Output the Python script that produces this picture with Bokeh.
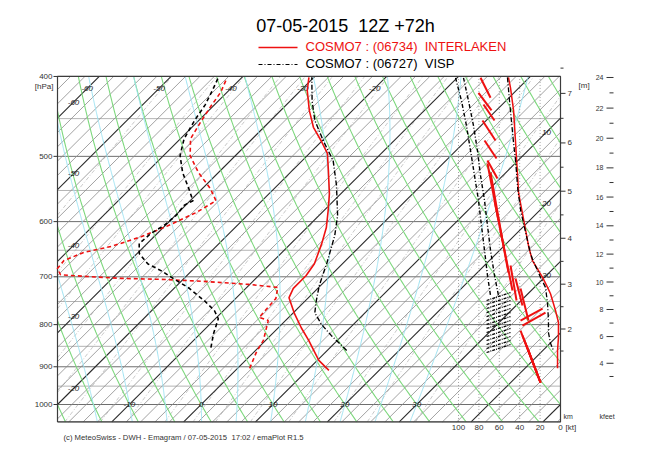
import numpy as np
from bokeh.plotting import figure
from bokeh.models import Range1d
from bokeh.core.properties import value
from bokeh.embed import file_html
from bokeh.resources import INLINE

# ---------------- texts ----------------
TITLE = "07-05-2015\u00a0\u00a012Z +72h"
LEG1 = "COSMO7 : (06734)\u00a0\u00a0INTERLAKEN"
LEG2 = "COSMO7 : (06727)\u00a0\u00a0VISP"
FOOTER = "(c) MeteoSwiss - DWH - Emagram / 07-05-2015\u00a0\u00a017:02 / emaPlot R1.5"

# ---------------- axis / grid values ----------------
p_ticks = [400, 500, 600, 700, 800, 900, 1000]
p_minor = [450, 550, 650, 750, 850, 950, 1050]
iso_top_labels = [-60, -50, -40, -30, -20]
iso_left_labels = [-60, -50, -40, -30, -20]
iso_bottom_labels = [-10, 0, 10, 20, 30]
iso_right_labels = [10, 20, 30]
theta_list = [-25, -20, -15, -10, -5, 0, 5, 10, 15, 20, 25, 30, 35, 40, 45, 50, 55, 60, 65, 70, 75, 80, 85, 90]
thetaw_list = [-15, -10, -5, 0, 5, 10, 15, 20, 25, 30]
mixr_list = [0.1, 0.2, 0.3, 0.5, 0.7, 1, 1.5, 2, 3, 4, 5, 7, 10, 15, 20, 30]
km_labels = [2, 3, 4, 5, 6, 7]
km_minor = [1.5, 2.5, 3.5, 4.5, 5.5, 6.5, 7.5]
kft_labels = [4, 6, 8, 10, 12, 14, 16, 18, 20, 22, 24]
kft_minor = [3, 5, 7, 9, 11, 13, 15, 17, 19, 21, 23]
kt_ticks = [100, 80, 60, 40, 20, 0]

# ---------------- profiles ----------------
# Interlaken (red) temperature
itl_t_p = [909, 884, 836, 807, 776, 742, 723, 698, 675, 638, 610, 582, 555, 520, 496, 479, 461, 440, 416, 401]
itl_t = [13.0, 10.2, 6.0, 3.2, 0.3, -2.7, -3.4, -3.4, -3.9, -5.7, -7.3, -9.4, -11.6, -15.0, -17.5, -20.1, -23.1, -26.0, -29.1, -30.7]
# Interlaken dewpoint
itl_d_p = [904, 865, 836, 791, 784, 744, 721, 715, 709, 705, 703, 699, 696, 684, 669, 654, 643, 626, 608, 585, 566,
           547, 523, 499, 476, 455, 435, 418, 402]
itl_d = [1.7, 0.4, -0.3, -2.4, -4.1, -4.4, -5.7, -10.2, -16.8, -23.0, -28.8, -34.2, -37.7, -39.0, -39.2, -37.6, -34.6,
         -31.8, -29.7, -27.5, -26.4, -28.9, -32.8, -36.3, -38.6, -39.5, -40.3, -40.9, -42.0]
# Visp (black) temperature
vsp_t_p = [860, 848, 825, 800, 774, 748, 717, 673, 624, 590, 542, 506, 479, 452, 428, 401]
vsp_t = [12.7, 11.3, 8.5, 5.6, 3.0, 1.5, -0.2, -2.3, -5.0, -7.4, -11.8, -15.7, -19.8, -23.9, -27.0, -30.3]
# Visp dewpoint
vsp_d_p = [853, 820, 787, 769, 748, 721, 707, 688, 675, 656, 638, 620, 607, 590, 573, 566,
           547, 523, 499, 476, 452, 433, 416, 401]
vsp_d = [-6.6, -8.2, -9.6, -11.3, -14.1, -18.2, -20.8, -24.3, -27.1, -29.7, -31.1, -30.9, -30.2, -29.9, -30.2, -29.6,
         -31.9, -35.0, -37.7, -39.5, -40.6, -41.3, -42.3, -43.3]

# wind speed profiles [kt]
itl_ff_p = [401, 413, 440, 482, 506, 555, 598, 645, 669, 701, 721, 734, 769, 795, 829, 860, 904]
itl_ff = [51, 49, 46, 44, 43, 41, 36, 31, 27.5, 17.6, 12.7, 9.8, 4.9, 2.0, 2.0, 2.9, 2.9]
vsp_ff_p = [401, 428, 482, 506, 546, 582, 620, 656, 666, 701, 721, 754, 791, 818, 843, 860]
vsp_ff = [52, 50, 46, 44, 42, 39, 34, 29.4, 27.5, 19.6, 14.7, 12.7, 11.8, 11.8, 9.8, 6.9]

# wind sticks Interlaken (start / end in kt-position and pressure)
itl_stk_kt0 = [78.4, 80.4, 75.5, 76.5, 74.5, 71.6, 71.6, 68.6, 64.7, 58.8, 53.9, 49.0, 44.1, 39.2, 39.2, 37.3,
               39.2, 37.3, 35.3, 33.3, 31.4]
itl_stk_p0 = [401.5, 418.7, 432.6, 452.3, 478.3, 505.8, 510.1, 523.1, 565.6, 615.1, 659.5, 678.2, 703.3, 723.3, 790.9,
              802.0, 813.3, 824.7, 836.3, 848.1, 860.0]
itl_stk_kt1 = [68.6, 67.6, 64.7, 63.7, 62.7, 61.8, 60.8, 56.9, 53.9, 51.0, 47.1, 43.1, 37.3, 31.4, 17.6, 14.7,
               19.6, 19.6, 19.6, 19.6, 19.6]
itl_stk_p1 = [424.5, 439.8, 452.3, 478.3, 503.0, 531.9, 598.1, 632.5, 659.5, 691.6, 727.3, 747.9, 758.4, 790.9, 764.8,
              773.4, 940.4, 940.4, 940.4, 940.4, 940.4]
# wind sticks Visp: two chains in the upper part, comb in the lower part
vsp_chainA_kt = [102.9, 97.1, 92.2, 88.2, 84.3, 80.4, 77.5, 74.5, 71.6, 68.6]
vsp_chainB_kt = [95.1, 90.2, 85.3, 81.4, 78.4, 74.5, 71.6, 68.6, 64.7, 60.8]
vsp_chain_p = [401.5, 428.0, 458.9, 492.1, 527.6, 565.6, 606.4, 650.2, 697.2, 737.7]
vsp_comb_p0 = [747.9, 756.3, 764.8, 773.4, 782.1, 790.9, 799.7, 808.7, 817.8, 827.0, 836.3, 845.7, 855.2, 864.8]
vsp_comb_p1 = [731.4, 739.6, 747.9, 756.3, 764.8, 773.4, 782.1, 790.9, 799.7, 808.7, 817.8, 827.0, 836.3, 845.7]
vsp_comb_kt0 = [72.5] * 14
vsp_comb_kt1 = [49.0] * 14

# ---------------- geometry helpers ----------------
SKEW = 50.0
KX = 503 / 70.0
X0 = 57 + 20 * KX
X_LO, X_HI = -20.0, 50.0
P_TOP, P_BOT = 400.0, 1050.0
W, H = 640, 448


def xpix(px):
    return (px - X0) / KX


def ppix(py):
    return 1000.0 * np.exp((py - 404.0) / 358.0)


def ktpix(px):
    return (560.0 - px) / 1.02


def skx(t, pr):
    return np.asarray(t, float) + SKEW * np.log(1000.0 / np.asarray(pr, float))


def clip(xs, ps, lo=X_LO, hi=X_HI):
    xs = np.asarray(xs, float)
    ls = np.log(np.asarray(ps, float))
    segs_x, segs_p = [], []
    cx, cp = [], []
    for i in range(len(xs)):
        ins = lo <= xs[i] <= hi
        if i > 0:
            x0, x1, l0, l1 = xs[i - 1], xs[i], ls[i - 1], ls[i]
            in0 = lo <= x0 <= hi
            if in0 != ins:
                if in0:
                    b = lo if x1 < lo else hi
                else:
                    b = lo if x0 < lo else hi
                t = (b - x0) / (x1 - x0)
                bl = l0 + t * (l1 - l0)
                if in0:
                    cx.append(b); cp.append(np.exp(bl))
                    if len(cx) > 1:
                        segs_x.append(cx); segs_p.append(cp)
                    cx, cp = [], []
                else:
                    cx, cp = [b], [np.exp(bl)]
        if ins:
            cx.append(xs[i]); cp.append(np.exp(ls[i]))
    if len(cx) > 1:
        segs_x.append(cx); segs_p.append(cp)
    return segs_x, segs_p


# ---------------- figure ----------------
p = figure(width=W, height=H,
           x_range=Range1d(xpix(0), xpix(W)),
           y_range=Range1d(ppix(H), ppix(0)),
           y_axis_type="log", x_axis_location=None, y_axis_location=None,
           output_backend="svg", toolbar_location=None, min_border=0,
           outline_line_color=None, background_fill_color="white", border_fill_color="white")
p.grid.visible = False
p.extra_x_ranges = {"kt": Range1d(ktpix(0), ktpix(W))}

FONT = value("Liberation Sans")

# isobars
p.multi_line(xs=[[X_LO, X_HI]] * len(p_minor), ys=[[v, v] for v in p_minor], line_color="#b4b4b4", line_width=1)
p.multi_line(xs=[[X_LO, X_HI]] * len(p_ticks), ys=[[v, v] for v in p_ticks], line_color="#6e6e6e", line_width=1)

# mixing ratio lines
pp = np.exp(np.linspace(np.log(P_BOT), np.log(P_TOP), 80))
mx, mp = [], []
for w in mixr_list:
    e = w * pp / (622.0 + w)
    a = np.log(e / 6.112)
    td = 243.5 * a / (17.67 - a)
    sx, sp = clip(skx(td, pp), pp)
    mx += sx; mp += sp
p.multi_line(xs=mx, ys=mp, line_color="#b0b0b0", line_width=0.7, line_dash="4 2 1 2")

# isotherms
gx, gp, dx, dp = [], [], [], []
for t in range(-66, 54, 2):
    sx, sp = clip(skx([t, t], [P_BOT, P_TOP]), [P_BOT, P_TOP])
    if t % 10 == 0:
        dx += sx; dp += sp
    else:
        gx += sx; gp += sp
p.multi_line(xs=gx, ys=gp, line_color="#8a8a8a", line_width=0.8)
p.multi_line(xs=dx, ys=dp, line_color="#2a2a2a", line_width=1.1)

# dry adiabats
pp = np.exp(np.linspace(np.log(P_BOT), np.log(P_TOP), 120))
ax, ap = [], []
for th in theta_list:
    t = (th + 273.15) * (pp / 1000.0) ** 0.2857 - 273.15
    sx, sp = clip(skx(t, pp), pp)
    ax += sx; ap += sp
p.multi_line(xs=ax, ys=ap, line_color="#7ed87e", line_width=1.1)


# saturated adiabats
def dtdlnp(T, pr):
    Rd, cp, Lv, eps = 287.04, 1005.7, 2.501e6, 0.622
    tc = T - 273.15
    es = 6.112 * np.exp(17.67 * tc / (tc + 243.5))
    rs = eps * es / (pr - es)
    return (Rd * T + Lv * rs) / (cp + Lv * Lv * rs * eps / (Rd * T * T))


def moist(tw):
    out_l, out_t = [], []
    for lend, n in ((np.log(P_TOP), 300), (np.log(P_BOT), 20)):
        l = np.log(1000.0)
        T = tw + 273.15
        h = (lend - l) / n
        ls, ts = [l], [T]
        for _ in range(n):
            k1 = dtdlnp(T, np.exp(l))
            k2 = dtdlnp(T + 0.5 * h * k1, np.exp(l + 0.5 * h))
            k3 = dtdlnp(T + 0.5 * h * k2, np.exp(l + 0.5 * h))
            k4 = dtdlnp(T + h * k3, np.exp(l + h))
            T = T + h * (k1 + 2 * k2 + 2 * k3 + k4) / 6.0
            l = l + h
            ls.append(l); ts.append(T)
        out_l.append(ls); out_t.append(ts)
    ls = out_l[1][::-1] + out_l[0][1:]
    ts = out_t[1][::-1] + out_t[0][1:]
    prs = np.exp(np.array(ls))
    return skx(np.array(ts) - 273.15, prs), prs


sx_all, sp_all = [], []
for tw in thetaw_list:
    xx, pr = moist(tw)
    sx, sp = clip(xx, pr)
    sx_all += sx; sp_all += sp
p.multi_line(xs=sx_all, ys=sp_all, line_color="#9fe3f2", line_width=1.0)

# wind speed grid (dotted)
for k in kt_ticks[:-1]:
    p.line(x=[k, k], y=[P_BOT, P_TOP], x_range_name="kt", line_color="#8c8c8c", line_width=0.8, line_dash="1 2")

# frame
p.line(x=[X_LO, X_HI, X_HI, X_LO, X_LO], y=[P_BOT, P_BOT, P_TOP, P_TOP, P_BOT], line_color="#3c3c3c", line_width=1.2)

# isotherm labels
lab_kw = dict(text_font=FONT, text_font_size="8px", text_font_style="italic", text_color="#222222",
              text_align="center", text_baseline="middle")
pl = ppix(88)
p.text(x=[skx(t, pl) for t in iso_top_labels], y=[pl] * len(iso_top_labels),
       text=[str(t) for t in iso_top_labels], **lab_kw)
xl = xpix(73)
p.text(x=[xl] * len(iso_left_labels), y=[1000 * np.exp(-(xl - t) / SKEW) for t in iso_left_labels],
       text=[str(t) for t in iso_left_labels], **lab_kw)
p.text(x=[float(t) for t in iso_bottom_labels], y=[1000] * len(iso_bottom_labels),
       text=[str(t) for t in iso_bottom_labels], **lab_kw)
xr = xpix(546)
p.text(x=[xr] * len(iso_right_labels), y=[1000 * np.exp(-(xr - t) / SKEW) for t in iso_right_labels],
       text=[str(t) for t in iso_right_labels], **lab_kw)

# pressure axis
p.segment(x0=[xpix(53)] * len(p_ticks), x1=[X_LO] * len(p_ticks), y0=p_ticks, y1=p_ticks, line_color="#333333")
p.text(x=[xpix(52)] * len(p_ticks), y=p_ticks, text=[str(v) for v in p_ticks], text_font=FONT,
       text_font_size="8px", text_align="right", text_baseline="middle", text_color="#333333")
p.text(x=[xpix(53)], y=[ppix(86)], text=["[hPa]"], text_font=FONT, text_font_size="8px",
       text_align="right", text_baseline="middle", text_color="#333333")

# height axes (standard atmosphere)
HOFF = 0.15


def p_of_km(h):
    return 1013.25 * (1 - 2.25577e-5 * (np.asarray(h, float) - HOFF) * 1000.0) ** 5.25588


kmp = p_of_km(km_labels)
kmm = p_of_km(km_minor)
p.segment(x0=[X_HI] * len(kmp), x1=[xpix(565)] * len(kmp), y0=kmp, y1=kmp, line_color="#333333")
p.segment(x0=[X_HI] * len(kmm), x1=[xpix(563)] * len(kmm), y0=kmm, y1=kmm, line_color="#333333")
p.text(x=[xpix(567)] * len(kmp), y=kmp, text=[str(v) for v in km_labels], text_font=FONT, text_font_size="8px",
       text_align="left", text_baseline="middle", text_color="#333333")
p.text(x=[xpix(578)], y=[ppix(85)], text=["[m]"], text_font=FONT, text_font_size="8px",
       text_align="left", text_baseline="middle", text_color="#333333")
kfp = p_of_km(np.array(kft_labels) * 0.3048)
kfm = p_of_km(np.array(kft_minor) * 0.3048)
p.segment(x0=[xpix(606)] * len(kfp), x1=[xpix(613)] * len(kfp), y0=kfp, y1=kfp, line_color="#333333")
p.segment(x0=[xpix(609)] * len(kfm), x1=[xpix(613)] * len(kfm), y0=kfm, y1=kfm, line_color="#333333")
p.text(x=[xpix(603)] * len(kfp), y=kfp, text=[str(v) for v in kft_labels], text_font=FONT, text_font_size="7px",
       text_align="right", text_baseline="middle", text_color="#333333")
p.text(x=[xpix(563), xpix(599)], y=[ppix(416)] * 2, text=["km", "kfeet"], text_font=FONT, text_font_size="7px",
       text_align="left", text_baseline="middle", text_color="#333333")

# wind speed axis labels
p.text(x=kt_ticks, y=[ppix(427)] * len(kt_ticks), x_range_name="kt", text=[str(v) for v in kt_ticks],
       text_font=FONT, text_font_size="8px", text_align="center", text_baseline="middle", text_color="#333333")
p.text(x=[ktpix(565)], y=[ppix(427)], x_range_name="kt", text=["[kt]"], text_font=FONT, text_font_size="8px",
       text_align="left", text_baseline="middle", text_color="#333333")

# profiles
p.line(x=skx(itl_t, itl_t_p), y=itl_t_p, line_color="#ee1111", line_width=1.6)
p.line(x=skx(itl_d, itl_d_p), y=itl_d_p, line_color="#ee1111", line_width=1.6, line_dash="4 3")
p.line(x=skx(vsp_t, vsp_t_p), y=vsp_t_p, line_color="black", line_width=1.4, line_dash="5 2 1 2")
p.line(x=skx(vsp_d, vsp_d_p), y=vsp_d_p, line_color="black", line_width=1.6, line_dash="4 3")

# wind
p.line(x=itl_ff, y=itl_ff_p, x_range_name="kt", line_color="#ee1111", line_width=1.5)
p.line(x=vsp_ff, y=vsp_ff_p, x_range_name="kt", line_color="black", line_width=1.3, line_dash="5 2 1 2")
p.line(x=vsp_chainA_kt, y=vsp_chain_p, x_range_name="kt", line_color="black", line_width=1.4, line_dash="4 2 1 2")
p.line(x=vsp_chainB_kt, y=vsp_chain_p, x_range_name="kt", line_color="black", line_width=1.4, line_dash="4 2 1 2")
p.segment(x0=vsp_comb_kt0, y0=vsp_comb_p0, x1=vsp_comb_kt1, y1=vsp_comb_p1, x_range_name="kt",
          line_color="black", line_width=1.3, line_dash="3 1 1 1")
p.segment(x0=itl_stk_kt0, y0=itl_stk_p0, x1=itl_stk_kt1, y1=itl_stk_p1, x_range_name="kt",
          line_color="#ee1111", line_width=2)

# title & legend
p.text(x=[xpix(345)], y=[ppix(25)], text=[TITLE], text_font=FONT, text_font_size="18px",
       text_align="center", text_baseline="middle", text_color="black")
p.line(x=[xpix(258), xpix(297)], y=[ppix(47)] * 2, line_color="#ee1111", line_width=1.5)
p.text(x=[xpix(305)], y=[ppix(46)], text=[LEG1], text_font=FONT, text_font_size="13px",
       text_align="left", text_baseline="middle", text_color="#ee1111")
p.line(x=[xpix(258), xpix(297)], y=[ppix(64)] * 2, line_color="black", line_width=1.2, line_dash="4 2 1 2")
p.text(x=[xpix(305)], y=[ppix(63)], text=[LEG2], text_font=FONT, text_font_size="13px",
       text_align="left", text_baseline="middle", text_color="black")
p.text(x=[xpix(63)], y=[ppix(437)], text=[FOOTER], text_font=FONT, text_font_size="7.7px",
       text_align="left", text_baseline="middle", text_color="#333333")

open("out.html", "w").write(file_html(p, INLINE))
